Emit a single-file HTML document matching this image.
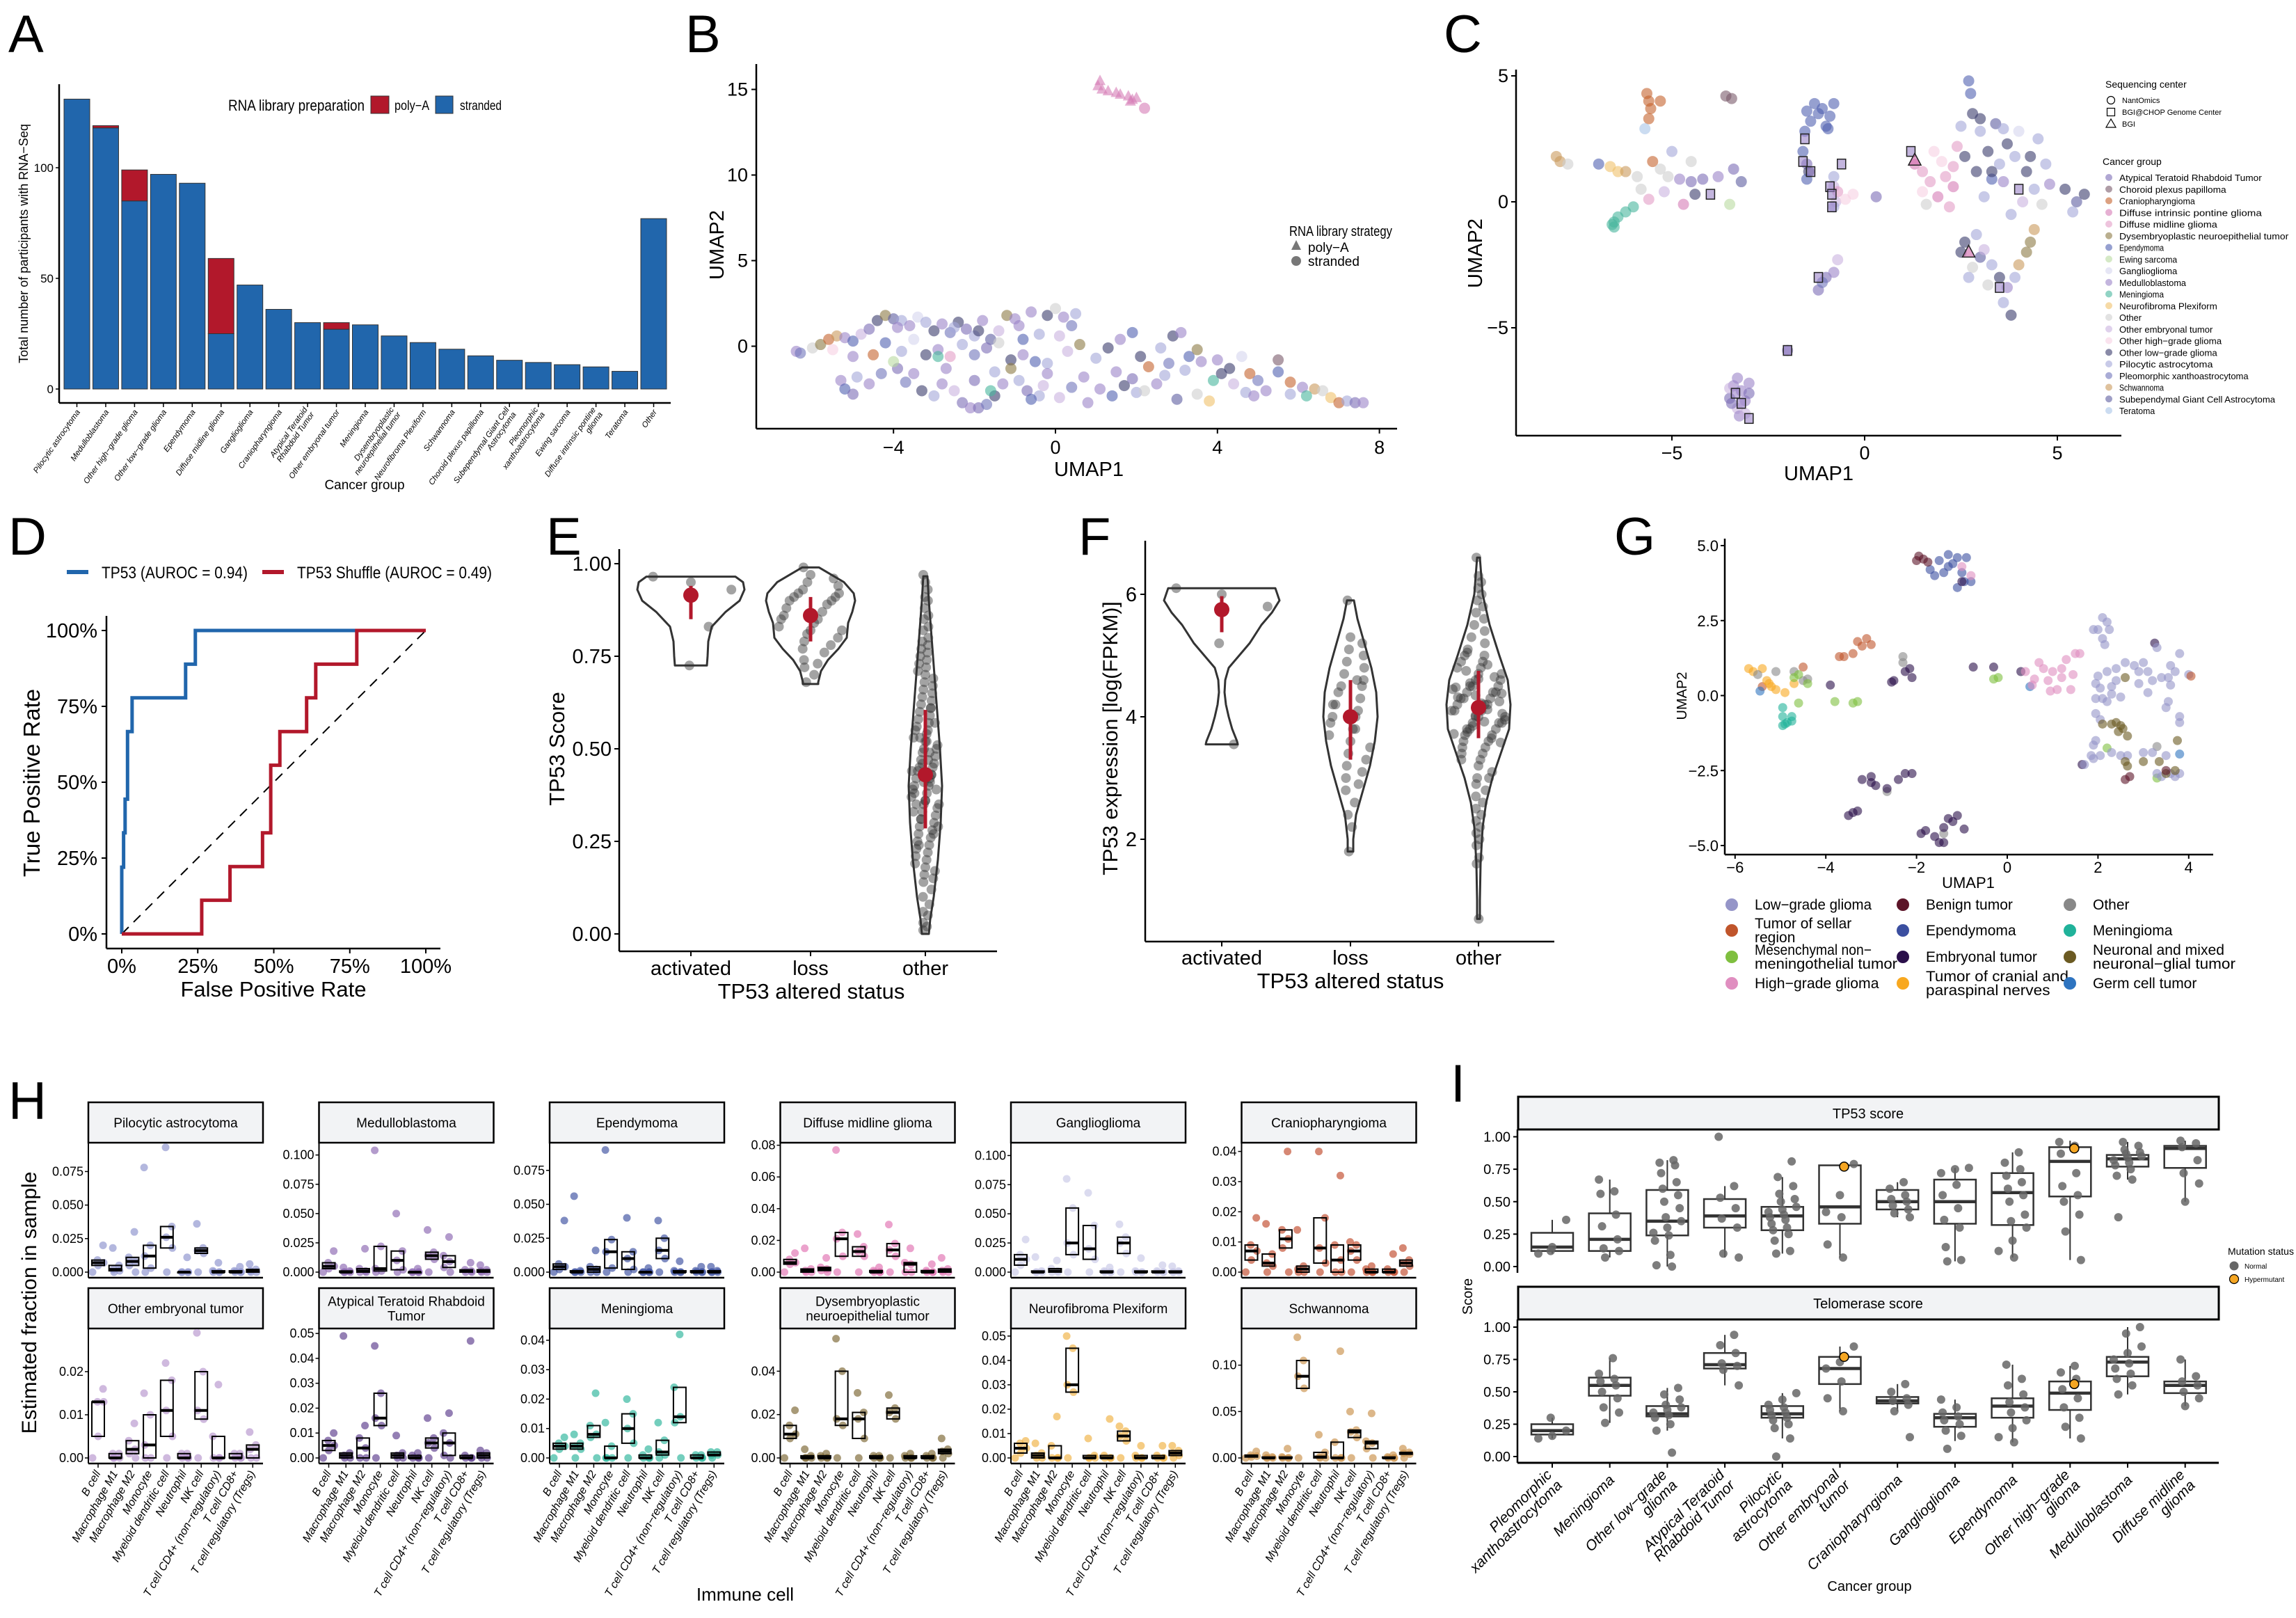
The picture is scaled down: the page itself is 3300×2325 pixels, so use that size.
<!DOCTYPE html>
<html><head><meta charset="utf-8"><title>Pediatric tumor figure</title>
<style>
html,body{margin:0;padding:0;background:#fff;}
svg{display:block;}
text{font-family:"Liberation Sans Narrow","Liberation Sans",sans-serif;fill:#000;}
.wide{font-family:"Liberation Sans",sans-serif;}
</style></head>
<body>
<svg id="fig" xmlns="http://www.w3.org/2000/svg" width="3300" height="2325" viewBox="0 0 3300 2325">
<rect x="0" y="0" width="3300" height="2325" fill="#fff"/>
</svg>
<script>
/* ================= DATA ================= */
// Panel A
const aCats=['Pilocytic astrocytoma','Medulloblastoma','Other high−grade glioma','Other low−grade glioma','Ependymoma','Diffuse midline glioma','Ganglioglioma','Craniopharyngioma','Atypical Teratoid|Rhabdoid Tumor','Other embryonal tumor','Meningioma','Dysembryoplastic|neuroepithelial tumor','Neurofibroma Plexiform','Schwannoma','Choroid plexus papilloma','Subependymal Giant Cell|Astrocytoma','Pleomorphic|xanthoastrocytoma','Ewing sarcoma','Diffuse intrinsic pontine|glioma','Teratoma','Other'];
const aStranded=[131,118,85,97,93,25,47,36,30,27,29,24,21,18,15,13,12,11,10,8,77];
const aPolyA=[0,1,14,0,0,34,0,0,0,3,0,0,0,0,0,0,0,0,0,0,0];
const aTicks=[0,50,100];
// Cancer group palette (panel B/C)
const cgNames=['Atypical Teratoid Rhabdoid Tumor','Choroid plexus papilloma','Craniopharyngioma','Diffuse intrinsic pontine glioma','Diffuse midline glioma','Dysembryoplastic neuroepithelial tumor','Ependymoma','Ewing sarcoma','Ganglioglioma','Medulloblastoma','Meningioma','Neurofibroma Plexiform','Other','Other embryonal tumor','Other high−grade glioma','Other low−grade glioma','Pilocytic astrocytoma','Pleomorphic xanthoastrocytoma','Schwannoma','Subependymal Giant Cell Astrocytoma','Teratoma'];
const cgColors=['#7b6cb5','#7a5a6a','#c4622d','#d67bb5','#e39cc6','#8c7a45','#5060b0','#b9dba0','#d6d6ee','#9b84c8','#47b69c','#f0c26b','#cfcfcf','#c9b3df','#f6d0e2','#3b3c6c','#a3a6d8','#7075bb','#c99a5c','#5d5ea0','#a8c5e8'];
// Panel B points [umap1, umap2, group]
const bTri=[[1.1,15.5],[1.05,15.2],[1.15,15.0],[1.3,14.9],[1.5,14.8],[1.6,14.7],[1.8,14.6],[1.9,14.4],[2.0,14.5],[1.85,14.3]];
const bPts=[[2.2,13.9,3],[-6.4,-0.3,9],[-6.3,-0.4,17],[-6.0,-0.1,12],[-5.8,0.1,5],[-5.6,0.4,2],[-5.4,0.6,18],[-5.2,0.5,9],[-5.0,0.3,6],[-4.8,0.7,13],[-4.6,1.0,0],[-4.4,1.5,15],[-4.2,1.8,5],[-4.0,1.6,19],[-3.8,1.5,16],[-3.6,1.2,9],[-3.4,1.7,8],[-3.2,1.4,16],[-3.0,0.9,15],[-2.8,1.3,9],[-2.6,0.8,17],[-2.4,1.4,15],[-2.2,1.0,0],[-2.0,0.6,16],[-1.8,1.5,9],[-1.6,0.4,19],[-1.4,0.9,13],[-1.2,1.8,5],[-1.0,1.6,9],[-0.8,0.4,6],[-0.6,2.0,9],[-0.4,0.7,16],[-0.2,1.8,15],[0.0,2.2,12],[0.2,1.7,9],[0.4,1.2,17],[0.1,0.6,13],[-5.5,-0.2,14],[-5.0,-0.6,9],[-4.5,-0.5,2],[-4.2,0.2,6],[-3.8,-0.3,16],[-3.5,0.4,8],[-3.2,-0.5,15],[-2.9,-0.2,9],[-2.6,-0.6,4],[-2.3,0.1,16],[-2.0,-0.5,17],[-1.7,-0.1,0],[-1.4,0.2,12],[-1.1,-0.8,15],[-0.8,-0.5,9],[-0.5,-0.9,6],[-0.2,-1.0,16],[0.3,-0.3,13],[0.6,0.1,5],[-5.3,-2.0,9],[-5.2,-2.5,6],[-5.0,-2.8,0],[-4.9,-1.8,16],[-4.6,-2.2,9],[-3.9,-1.3,0],[-3.7,-2.1,17],[-3.5,-1.6,9],[-3.3,-2.6,15],[-3.0,-2.9,16],[-2.8,-2.2,9],[-2.5,-2.6,13],[-2.3,-3.3,0],[-2.1,-3.6,9],[-1.9,-3.6,0],[-1.7,-3.4,17],[-1.5,-2.9,15],[-1.3,-2.2,9],[-1.1,-1.3,5],[-0.9,-2.0,16],[-0.7,-2.6,0],[-0.4,-2.9,16],[-0.2,-1.6,9],[0.1,-3.0,13],[0.4,-2.4,17],[0.7,-1.8,9],[1.0,-0.7,16],[1.3,-0.1,15],[1.6,0.4,9],[1.9,0.8,6],[2.1,-0.6,15],[2.3,-1.2,2],[2.6,-0.1,16],[2.9,0.6,15],[3.1,0.8,9],[3.3,-0.6,6],[3.5,-0.2,5],[3.2,-1.4,16],[2.8,-1.0,17],[2.5,-2.2,9],[2.0,-2.7,16],[1.7,-2.3,15],[1.4,-2.9,6],[1.1,-2.5,9],[3.0,-3.1,19],[3.5,-2.8,12],[3.8,-3.2,11],[4.0,-0.8,9],[4.3,-1.3,15],[4.6,-0.6,8],[4.8,-1.6,2],[5.0,-2.0,17],[5.2,-2.6,9],[4.7,-2.7,16],[4.4,-2.2,13],[5.5,-0.8,1],[5.5,-1.5,6],[5.8,-2.1,2],[6.1,-2.4,9],[6.4,-2.5,18],[6.6,-2.6,12],[6.8,-3.0,11],[7.0,-3.3,2],[7.2,-3.2,16],[7.4,-3.3,0],[7.6,-3.3,9],[6.2,-2.9,10],[5.8,-2.8,16],[3.9,-2.0,10],[0.8,-3.3,9],[-0.6,-3.1,6],[-1.6,-2.6,10],[-2.9,-0.6,10],[-4.0,-0.9,7],[2.2,-2.6,12],[4.1,-1.6,15],[-3.9,1.1,9],[-2.5,1.1,16],[-1.9,0.9,15],[-0.9,1.2,9],[0.5,1.9,16],[-1.5,-1.5,16],[-2.7,-1.3,9],[-4.3,-1.6,17],[1.5,-1.5,9],[2.7,-1.7,16],[3.6,-0.9,9],[4.9,-2.9,9],[-2.0,-2.0,0],[-0.3,-2.3,13],[1.9,-1.9,0]];
const bXTicks=[-4,0,4,8];
const bYTicks=[0,5,10,15];
// Panel C points [umap1, umap2, group]
const cPts=[[-5.65,4.3,2],[-5.6,4.0,2],[-5.55,3.7,2],[-5.6,3.3,2],[-5.3,4.0,2],[-5.7,2.9,20],[-3.6,4.2,1],[-3.45,4.1,1],[-1.5,3.6,6],[-1.3,3.9,6],[-1.1,3.7,6],[-0.9,3.4,6],[-1.4,3.2,6],[-1.0,3.0,6],[-0.8,3.9,6],[-1.2,3.5,6],[-1.55,2.8,6],[-0.95,2.9,6],[-1.6,2.0,6],[-1.5,1.5,0],[-1.45,1.2,15],[-1.5,0.9,6],[-8.0,1.8,18],[-7.9,1.6,18],[-7.7,1.5,12],[-6.9,1.5,6],[-6.6,1.4,11],[-6.4,1.2,11],[-6.2,1.2,18],[-5.9,1.0,12],[-5.5,1.6,2],[-5.3,1.3,12],[-5.1,1.0,12],[-4.8,0.9,9],[-4.5,0.8,0],[-4.2,0.9,0],[-3.8,1.0,9],[-3.4,1.3,0],[-3.2,0.8,19],[-5.8,0.5,12],[-5.6,0.1,4],[-5.2,0.4,13],[-4.7,-0.1,3],[-4.4,0.3,15],[-3.5,-0.1,7],[-5.0,2.0,16],[-4.5,1.6,12],[-6.0,-0.2,10],[-6.2,-0.4,10],[-6.4,-0.6,10],[-6.5,-0.8,10],[-6.55,-0.9,10],[-6.5,-1.0,10],[-0.8,1.0,16],[-0.8,0.6,13],[-0.7,0.4,4],[-0.75,0.0,13],[-0.8,-0.2,16],[-0.5,0.1,14],[-0.3,0.3,14],[0.3,0.2,0],[-1.0,-3.0,0],[-0.8,-2.8,9],[-1.2,-3.5,0],[-1.1,-3.2,17],[-0.7,-2.3,13],[-2.0,-5.9,0],[-3.4,-7.3,9],[-3.2,-7.5,9],[-3.5,-7.8,0],[-3.1,-7.9,9],[-3.3,-8.2,13],[-3.0,-7.2,9],[-3.25,-8.5,9],[-3.45,-8.0,0],[-3.1,-8.4,13],[-3.3,-7.0,9],[-3.0,-7.6,0],[-3.5,-7.4,13],[1.3,1.5,3],[1.5,1.2,4],[1.7,0.8,4],[1.5,0.4,14],[1.9,0.2,3],[2.1,1.0,4],[2.0,1.6,14],[2.3,0.6,3],[1.8,2.0,14],[2.4,2.2,4],[2.2,-0.2,4],[1.6,-0.1,12],[2.5,3.0,16],[2.8,3.5,15],[2.7,4.8,6],[2.75,4.3,6],[3.0,2.8,16],[3.2,2.0,15],[3.4,3.1,19],[3.5,1.5,16],[3.7,2.3,15],[3.9,1.8,16],[4.0,2.8,8],[4.2,1.2,15],[3.6,0.8,9],[3.1,0.2,16],[2.9,1.2,15],[4.4,0.5,16],[4.6,-0.1,12],[4.8,0.7,9],[5.2,0.5,15],[5.5,0.0,19],[5.7,0.3,15],[5.4,-0.4,16],[3.8,-0.5,16],[4.3,1.8,15],[4.5,2.5,16],[2.6,1.8,15],[3.3,0.9,6],[4.1,0.0,13],[4.3,-1.6,5],[4.2,-2.0,5],[4.4,-1.1,18],[2.6,-1.6,15],[2.9,-1.3,16],[2.5,-2.0,15],[3.0,-2.2,19],[3.3,-2.5,16],[3.5,-3.0,15],[3.2,-3.3,12],[3.7,-3.4,9],[3.9,-3.0,16],[3.6,-4.0,16],[3.8,-4.5,15],[2.8,-2.6,12],[4.0,-2.5,18],[2.7,-3.0,16],[3.1,-1.9,13],[3.0,3.3,15],[3.6,2.9,16],[2.3,1.4,4],[3.3,1.2,15],[4.7,1.5,16]];
const cSq=[[-1.55,2.5],[-1.6,1.6],[-1.4,1.2],[-0.9,0.6],[-0.85,0.3],[-0.85,-0.2],[-4.0,0.3],[-1.2,-3.0],[-2.0,-5.9],[-3.35,-7.6],[-3.2,-8.0],[-3.0,-8.6],[4.0,0.5],[3.5,-3.4],[-0.6,1.5],[1.2,2.0]];
const cTri=[[1.3,1.65],[2.7,-2.0]];
const cXTicks=[-5,0,5];
const cYTicks=[-5,0,5];
// Panel D ROC
const dBlueFpr=[0,0,0.006,0.006,0.011,0.011,0.019,0.019,0.034,0.034,0.21,0.21,0.242,0.242,1];
const dBlueTpr=[0,0.22,0.22,0.333,0.333,0.444,0.444,0.667,0.667,0.778,0.778,0.889,0.889,1,1];
const dRedFpr=[0,0.263,0.263,0.356,0.356,0.463,0.463,0.49,0.49,0.52,0.52,0.608,0.608,0.638,0.638,0.773,0.773,1];
const dRedTpr=[0,0,0.111,0.111,0.222,0.222,0.333,0.333,0.556,0.556,0.667,0.667,0.778,0.778,0.889,0.889,1,1];
const dTicks=[0,0.25,0.5,0.75,1];
const dTickLbl=['0%','25%','50%','75%','100%'];
// Panel E
const eCats=['activated','loss','other'];
const eActPts=[0.965,0.95,0.83,0.725,0.93];
const eLossPts=[0.99,0.97,0.96,0.95,0.94,0.93,0.92,0.92,0.91,0.91,0.90,0.90,0.89,0.88,0.87,0.86,0.85,0.85,0.84,0.83,0.82,0.82,0.81,0.80,0.79,0.78,0.77,0.76,0.74,0.73,0.72,0.70,0.68];
const eOthPts=[0.97,0.95,0.93,0.91,0.9,0.88,0.86,0.85,0.83,0.82,0.8,0.79,0.78,0.77,0.76,0.75,0.74,0.73,0.72,0.71,0.7,0.69,0.68,0.67,0.66,0.65,0.64,0.63,0.62,0.61,0.6,0.59,0.58,0.57,0.56,0.55,0.55,0.54,0.53,0.52,0.51,0.5,0.5,0.49,0.48,0.47,0.46,0.45,0.45,0.44,0.43,0.42,0.41,0.4,0.4,0.39,0.38,0.37,0.36,0.35,0.35,0.34,0.33,0.32,0.31,0.3,0.29,0.28,0.27,0.26,0.25,0.24,0.23,0.22,0.21,0.2,0.19,0.18,0.17,0.16,0.15,0.14,0.12,0.1,0.08,0.06,0.05,0.03,0.02,0.01,0.42,0.38,0.47,0.33,0.52,0.44,0.36,0.29,0.41,0.57,0.46,0.39,0.31,0.27,0.53,0.61,0.24,0.43,0.35,0.49];
const eMean=[0.915,0.86,0.43];
const eLo=[0.85,0.79,0.285];
const eHi=[0.94,0.91,0.605];
const eVioAct=[[0.965,64],[0.95,75],[0.93,77],[0.9,70],[0.87,50],[0.83,30],[0.79,25],[0.75,24],[0.725,23]];
const eVioLoss=[[0.99,12],[0.97,30],[0.95,48],[0.92,62],[0.9,64],[0.87,60],[0.84,54],[0.8,52],[0.77,40],[0.74,25],[0.71,15],[0.68,11],[0.675,11]];
const eVioOth=[[0.966,3],[0.9,5],[0.8,9],[0.7,13],[0.6,17],[0.5,21],[0.4,24],[0.3,22],[0.2,18],[0.1,12],[0.04,7],[0.0,5]];
const eTicks=[0,0.25,0.5,0.75,1];
const eTickLbl=['0.00','0.25','0.50','0.75','1.00'];
// Panel F
const fActPts=[6.1,6.0,5.8,5.2,3.55];
const fLossPts=[5.9,5.3,5.2,5.1,5.0,4.9,4.8,4.7,4.6,4.5,4.5,4.4,4.3,4.2,4.1,4.0,4.0,3.9,3.8,3.7,3.6,3.5,3.4,3.3,3.2,3.1,3.0,2.9,2.8,2.6,2.4,2.2,1.8,4.6,4.2,3.8];
const fOthPts=[6.6,6.3,6.2,6.1,6.0,5.9,5.8,5.7,5.6,5.5,5.4,5.3,5.2,5.1,5.0,5.0,4.9,4.9,4.8,4.8,4.7,4.7,4.6,4.6,4.5,4.5,4.5,4.4,4.4,4.4,4.3,4.3,4.3,4.2,4.2,4.2,4.1,4.1,4.1,4.0,4.0,4.0,3.9,3.9,3.9,3.8,3.8,3.8,3.7,3.7,3.6,3.6,3.5,3.5,3.4,3.4,3.3,3.3,3.2,3.1,3.0,3.0,2.9,2.8,2.7,2.6,2.5,2.4,2.3,2.2,2.1,2.0,1.9,1.7,1.6,0.7,4.45,4.15,3.95,4.35,4.05,3.85,4.25,4.55,4.65,3.75,3.65,4.75,4.85,5.05,4.12,4.32,3.92,4.48,4.22,3.72,4.62,3.58,4.02,4.38];
const fMean=[5.75,4.0,4.15];
const fLo=[5.38,3.3,3.65];
const fHi=[5.97,4.6,4.75];
const fVioAct=[[6.1,77],[5.9,83],[5.7,72],[5.5,57],[5.2,40],[5.0,25],[4.8,10],[4.6,5],[4.4,4],[4.2,6],[4.0,10],[3.8,15],[3.6,22],[3.55,23]];
const fVioLoss=[[5.9,5],[5.6,10],[5.2,20],[4.8,30],[4.4,37],[4.0,39],[3.6,35],[3.2,28],[2.8,18],[2.4,8],[2.0,4],[1.8,4]];
const fVioOth=[[6.6,2],[6.0,6],[5.5,16],[5.0,30],[4.6,42],[4.2,46],[3.8,44],[3.4,32],[3.0,20],[2.6,11],[2.2,6],[1.6,3],[1.0,2],[0.7,2]];
const fTicks=[2,4,6];
// Panel G
const gNames=['Low−grade glioma','Tumor of sellar|region','Mesenchymal non−|meningothelial tumor','High−grade glioma','Benign tumor','Ependymoma','Embryonal tumor','Tumor of cranial and|paraspinal nerves','Other','Meningioma','Neuronal and mixed|neuronal−glial tumor','Germ cell tumor'];
const gColors=['#9595c8','#c0552b','#7fbf3f','#e08ec0','#5c1428','#3b4fa0','#2a0f4a','#f8a81f','#888888','#20b29a','#6b5a22','#2e74c0'];
const gPts=[[-1.3,4.7,5],[-1.1,4.6,5],[-1.5,4.5,5],[-1.3,4.3,5],[-1.4,4.1,5],[-1.6,4.0,5],[-1.0,4.1,5],[-0.95,3.8,5],[-1.1,3.6,5],[-0.8,3.8,5],[-1.7,4.2,5],[-1.2,4.4,5],[-0.9,4.6,5],[-1.95,4.65,4],[-2.0,4.5,4],[-1.85,4.55,4],[-1.75,4.45,4],[-1.0,4.3,3],[-0.8,4.0,3],[-1.0,3.8,6],[-3.1,1.9,1],[-3.3,1.8,1],[-3.0,1.7,1],[-3.2,1.65,1],[-3.4,1.4,1],[-3.6,1.3,1],[-3.7,1.3,1],[-4.5,0.95,1],[-5.4,0.3,1],[-5.7,0.9,7],[-5.6,0.8,7],[-5.4,0.9,7],[-5.3,0.5,7],[-5.2,0.3,7],[-5.1,0.2,7],[-4.9,0.1,7],[-4.7,0.4,7],[-5.25,0.4,7],[-5.5,0.7,8],[-5.1,0.8,8],[-4.7,0.8,8],[-4.5,0.5,8],[-4.4,0.55,8],[-2.3,1.1,8],[-2.3,1.3,8],[-2.65,-3.2,8],[3.3,-1.7,8],[-1.4,-4.6,8],[-4.6,0.7,2],[-4.7,0.6,2],[-4.4,0.4,2],[-4.6,-0.25,2],[-3.8,-0.2,2],[-3.4,-0.25,2],[-3.3,-0.2,2],[-0.3,0.55,2],[-0.2,0.6,2],[2.2,-1.75,2],[3.3,-2.75,2],[-4.95,-0.4,9],[-4.95,-0.7,9],[-4.85,-0.9,9],[-4.95,-1.0,9],[-4.75,-0.85,9],[-4.9,-0.95,9],[-4.75,-0.7,9],[-5.45,0.15,11],[0.5,0.3,11],[3.8,-1.95,11],[-3.9,0.35,6],[-2.55,0.45,6],[-2.5,0.5,6],[-2.25,0.8,6],[-2.15,0.9,6],[-2.1,0.6,6],[-0.75,0.95,6],[-0.3,0.95,6],[0.3,0.8,6],[-3.2,-2.8,6],[-3.0,-2.9,6],[-3.0,-2.7,6],[-2.9,-3.0,6],[-2.4,-2.8,6],[-2.25,-2.6,6],[-2.1,-2.6,6],[-2.65,-3.1,6],[-3.5,-4.0,6],[-3.4,-3.9,6],[-3.3,-3.85,6],[-1.9,-4.6,6],[-1.8,-4.5,6],[-1.6,-4.7,6],[-1.4,-4.4,6],[-1.5,-4.9,6],[-1.3,-4.1,6],[-1.2,-4.2,6],[-1.1,-4.0,6],[-0.95,-4.45,6],[-1.4,-4.9,6],[1.65,-2.3,6],[3.25,1.75,6],[0.4,0.8,3],[0.6,0.55,3],[0.7,1.1,3],[0.8,0.9,3],[0.9,0.5,3],[1.0,0.8,3],[1.1,0.2,3],[1.2,0.6,3],[1.3,1.2,3],[1.4,0.2,3],[1.5,1.4,3],[1.6,1.4,3],[1.2,0.9,3],[0.55,0.35,3],[0.95,0.15,3],[1.45,0.7,3],[1.9,2.2,0],[2.0,2.2,0],[2.1,2.6,0],[2.2,2.45,0],[2.25,2.2,0],[2.1,1.9,0],[2.15,1.7,0],[2.6,1.1,0],[2.8,1.0,0],[3.0,1.1,0],[3.3,1.6,0],[3.8,1.4,0],[3.7,0.8,0],[4.0,0.7,0],[3.55,0.6,0],[3.4,0.6,0],[3.1,0.8,0],[2.9,0.8,0],[2.4,0.9,0],[2.2,0.8,0],[2.0,0.65,0],[1.95,0.4,0],[2.05,0.25,0],[2.3,0.05,0],[2.5,-0.05,0],[2.1,-0.1,0],[1.95,-0.1,0],[2.2,-0.2,0],[2.4,0.5,0],[2.9,0.4,0],[3.2,0.5,0],[3.1,0.1,0],[3.6,0.35,0],[3.55,-0.2,0],[3.5,-0.4,0],[3.8,-0.9,0],[3.8,-0.7,0],[1.95,-0.6,0],[2.05,-0.8,0],[1.95,-1.5,0],[1.9,-1.65,0],[1.85,-2.0,0],[2.05,-2.0,0],[2.3,-1.9,0],[2.5,-2.0,0],[2.65,-2.0,0],[3.0,-1.9,0],[3.2,-1.9,0],[3.5,-2.0,0],[3.3,-2.6,0],[3.4,-2.7,0],[3.6,-2.6,0],[3.7,-2.7,0],[3.8,-2.6,0],[1.7,-2.3,0],[1.9,-2.1,0],[3.6,1.0,0],[2.3,0.3,0],[2.1,-0.95,10],[2.3,-0.95,10],[2.4,-0.9,10],[2.5,-1.0,10],[2.55,-1.1,10],[2.45,-1.2,10],[2.65,-1.35,10],[3.75,-1.5,10],[2.6,-2.2,10],[2.65,-2.35,10],[3.0,-2.2,10],[3.35,-2.2,10],[3.7,-2.5,10],[3.5,-2.6,10],[2.6,0.6,10],[2.6,-2.8,4],[2.7,-2.7,4],[3.5,-2.5,4],[4.05,0.65,1]];
const gXTicks=[-6,-4,-2,0,2,4];
const gYTicks=[-5,-2.5,0,2.5,5];
const gYTickLbl=['−5.0','−2.5','0.0','2.5','5.0'];
// Panel H
const hCells=['B cell','Macrophage M1','Macrophage M2','Monocyte','Myeloid dendritic cell','Neutrophil','NK cell','T cell CD4+ (non−regulatory)','T cell CD8+','T cell regulatory (Tregs)'];
const hPanels=['Pilocytic astrocytoma','Medulloblastoma','Ependymoma','Diffuse midline glioma','Ganglioglioma','Craniopharyngioma','Other embryonal tumor','Atypical Teratoid Rhabdoid|Tumor','Meningioma','Dysembryoplastic|neuroepithelial tumor','Neurofibroma Plexiform','Schwannoma'];
const hColors=['#8b90cc','#8b66b0','#3b4fa0','#e070b0','#c7c7e6','#c0482a','#b594cc','#5a3b8c','#2ab49a','#7a6430','#f0b040','#c9904a'];
const hTop=[0.0965,0.1105,0.0954,0.0816,0.111,0.0429,0.030,0.052,0.044,0.0597,0.0531,0.1395];
const hTicks=[[0,0.025,0.05,0.075],[0,0.025,0.05,0.075,0.1],[0,0.025,0.05,0.075],[0,0.02,0.04,0.06,0.08],[0,0.025,0.05,0.075,0.1],[0,0.01,0.02,0.03,0.04],[0,0.01,0.02],[0,0.01,0.02,0.03,0.04,0.05],[0,0.01,0.02,0.03,0.04],[0,0.02,0.04],[0,0.01,0.02,0.03,0.04,0.05],[0,0.05,0.1]];
const hTickLbl=[['0.000','0.025','0.050','0.075'],['0.000','0.025','0.050','0.075','0.100'],['0.000','0.025','0.050','0.075'],['0.00','0.02','0.04','0.06','0.08'],['0.000','0.025','0.050','0.075','0.100'],['0.00','0.01','0.02','0.03','0.04'],['0.00','0.01','0.02'],['0.00','0.01','0.02','0.03','0.04','0.05'],['0.00','0.01','0.02','0.03','0.04'],['0.00','0.02','0.04'],['0.00','0.01','0.02','0.03','0.04','0.05'],['0.00','0.05','0.10']];
const hMed=[[.007,.002,.008,.012,.026,0,.016,0,0,.001],[.005,0,.001,.003,.010,0,.014,.009,.001,.001],[.004,0,.002,.015,.010,0,.016,0,0,0],[.006,.001,.002,.021,.013,0,.014,.005,0,.001],[.011,0,.001,.025,.020,0,.025,0,0,0],[.007,.003,.011,.001,.008,.004,.007,0,0,.003],[.013,0,.002,.003,.011,0,.011,0,0,.002],[.005,.001,.004,.016,.001,0,.006,.006,0,.001],[.004,.004,.008,0,.010,0,.002,.014,0,.001],[.011,0,0,.018,.018,0,.021,0,0,.003],[.004,.001,0,.030,0,0,.009,0,0,.002],[.002,0,0,.088,.001,0,.028,.016,0,.005]];
const hQ1=[[.005,.001,.005,.003,.018,0,.014,0,0,0],[.003,0,0,.001,.002,0,.011,.004,0,0],[.002,0,0,.003,.002,0,.010,0,0,0],[.005,0,.001,.010,.010,0,.010,0,0,0],[.006,0,0,.015,.011,0,.016,0,0,0],[.004,.002,.008,0,.003,0,.004,0,0,.002],[.005,0,.001,0,.005,0,.009,0,0,0],[.003,0,0,.013,0,0,.004,.001,0,0],[.003,.003,.007,0,.005,0,.001,.012,0,.001],[.009,0,0,.015,.009,0,.018,0,0,.002],[.002,0,0,.027,0,0,.007,0,0,.001],[.001,0,0,.075,0,0,.022,.010,0,.004]];
const hQ3=[[.009,.005,.011,.020,.034,0,.018,.001,.001,.002],[.008,.001,.003,.022,.018,0,.017,.014,.002,.002],[.006,.001,.004,.024,.015,0,.025,.001,.001,.001],[.008,.002,.003,.025,.016,.001,.018,.006,.001,.002],[.015,.001,.003,.055,.040,.001,.030,.001,.001,.001],[.009,.006,.014,.002,.018,.009,.009,.001,.001,.004],[.013,.001,.004,.010,.018,.001,.020,.005,.001,.003],[.007,.002,.008,.026,.002,.001,.008,.010,.001,.002],[.005,.005,.011,.004,.015,.001,.006,.024,.001,.002],[.015,.001,.001,.040,.021,.001,.023,.001,.001,.004],[.006,.002,.005,.045,.001,.001,.011,.001,.001,.003],[.003,.001,.001,.105,.006,.017,.030,.018,.001,.006]];
const hMax=[[.020,.018,.030,.078,.093,.011,.036,.007,.004,.006],[.018,.004,.020,.104,.050,.003,.036,.030,.008,.006],[.038,.056,.016,.090,.040,.003,.038,.008,.004,.004],[.012,.015,.009,.077,.024,.003,.030,.015,.005,.009],[.028,.013,.010,.080,.068,.004,.041,.012,.006,.005],[.018,.016,.040,.014,.040,.032,.010,.002,.006,.008],[.016,.001,.008,.015,.022,.001,.029,.017,.001,.006],[.010,.049,.013,.045,.009,.002,.016,.018,.047,.003],[.007,.008,.022,.012,.020,.003,.012,.042,.001,.002],[.022,.004,.002,.055,.030,.001,.029,.002,.002,.009],[.007,.006,.017,.050,.008,.016,.013,.005,.005,.005],[.007,.003,.010,.130,.025,.115,.050,.048,.003,.010]];
// Panel I
const iCats=['Pleomorphic|xanthoastrocytoma','Meningioma','Other low−grade|glioma','Atypical Teratoid|Rhabdoid Tumor','Pilocytic|astrocytoma','Other embryonal|tumor','Craniopharyngioma','Ganglioglioma','Ependymoma','Other high−grade|glioma','Medulloblastoma','Diffuse midline|glioma'];
const iTpQ1=[.12,.12,.24,.30,.28,.33,.44,.33,.32,.54,.77,.76];
const iTpMed=[.15,.21,.35,.39,.39,.46,.50,.50,.57,.81,.83,.91];
const iTpQ3=[.26,.41,.59,.52,.46,.78,.59,.67,.72,.92,.86,.93];
const iTpLo=[.10,.07,0,.07,.10,.07,.38,.04,.07,.05,.67,.50];
const iTpHi=[.36,.67,.82,.62,.69,.78,.65,.76,.88,.97,.96,.97];
const iTpPts=[[.10,.15,.36,.12],[.07,.12,.14,.21,.31,.40,.56,.58,.67],[0,.01,.09,.2,.24,.26,.3,.35,.38,.45,.5,.55,.6,.65,.72,.78,.8,.82],[.07,.1,.3,.37,.45,.53,.62,1.0],[.1,.12,.2,.25,.28,.3,.33,.36,.38,.4,.42,.44,.46,.5,.52,.56,.62,.69,.81],[.07,.17,.38,.42,.55,.79],[.38,.41,.44,.47,.5,.52,.55,.6,.65],[.04,.05,.15,.3,.36,.45,.55,.63,.72,.75,.76],[.07,.12,.2,.3,.35,.4,.5,.55,.6,.65,.7,.75,.8,.88],[.05,.27,.4,.5,.55,.62,.72,.87,.93,.96],[.38,.67,.7,.75,.78,.8,.82,.84,.85,.87,.88,.9,.93,.96],[.5,.64,.72,.82,.92,.95,.97]];
const iTpHyper=[null,null,null,null,null,.77,null,null,null,.91,null,null];
const iTeQ1=[.17,.47,.31,.68,.30,.56,.41,.23,.30,.36,.62,.49];
const iTeMed=[.20,.55,.33,.71,.33,.68,.43,.30,.39,.49,.73,.55];
const iTeQ3=[.25,.61,.39,.80,.39,.77,.46,.33,.45,.58,.77,.58];
const iTeLo=[.14,.26,.20,.55,.14,.35,.35,.12,.11,.14,.48,.39];
const iTeHi=[.30,.76,.53,.94,.49,.85,.56,.44,.71,.70,1.0,.75];
const iTePts=[[.14,.16,.2,.3],[.26,.34,.38,.45,.5,.55,.58,.6,.64,.76],[.03,.2,.25,.3,.32,.34,.36,.38,.4,.44,.48,.53],[.55,.67,.7,.72,.8,.86,.94],[0,.14,.22,.25,.28,.3,.32,.34,.36,.38,.4,.44,.49],[.35,.45,.58,.68,.73,.85],[.15,.35,.4,.43,.45,.5,.56],[.06,.16,.2,.25,.28,.31,.34,.38,.44],[.11,.15,.22,.28,.34,.38,.42,.48,.55,.6,.71],[.14,.23,.3,.38,.45,.52,.6,.65,.7],[.48,.55,.6,.64,.68,.72,.75,.8,.85,.95,1.0],[.39,.45,.5,.55,.58,.62,.75]];
const iTeHyper=[null,null,null,null,null,.77,null,null,null,.56,null,null];
const iTicks=[0,0.25,0.5,0.75,1];
const iTickLbl=['0.00','0.25','0.50','0.75','1.00'];

/* ================= HELPERS ================= */
const NS='http://www.w3.org/2000/svg';
const root=document.getElementById('fig');
function mk(tag,attrs,parent){const e=document.createElementNS(NS,tag);for(const k in attrs)e.setAttribute(k,attrs[k]);(parent||root).appendChild(e);return e;}
function grp(name,parent){const g=mk('g',{},parent);


return g;}
function tx(x,y,s,size,anchor,parent,name,extra){const t=mk('text',Object.assign({x:x,y:y,'font-size':size,'text-anchor':anchor||'start'},extra||{}),parent);t.textContent=s;


return t;}
function ln(x1,y1,x2,y2,w,parent,name,col){const l=mk('line',{x1:x1,y1:y1,x2:x2,y2:y2,stroke:col||'#000','stroke-width':w},parent);


return l;}
function jit(i,m){return (((i*47)%19)-9)/9*m;}
function multi(x,y,s,size,anchor,parent,name,lh,extra){const parts=s.split('|');const t=mk('text',Object.assign({x:x,y:y,'font-size':size,'text-anchor':anchor},extra||{}),parent);


parts.forEach((p,k)=>{const ts=mk('tspan',{x:x,dy:k===0?(-(parts.length-1)*lh/2):lh},t);ts.textContent=p;});return t;}

/* ================= PANEL A ================= */
(function(){
const g=grp('panel-a');
tx(12,75,'A',76,'start',g,'panel-label-a');
const y=v=>559-3.18*v; const bx=i=>92+i*41.45; const bw=37;
aCats.forEach((c,i)=>{
 const r1=mk('rect',{x:bx(i),y:y(aStranded[i]),width:bw,height:y(0)-y(aStranded[i]),fill:'#2166ac',stroke:'#333','stroke-width':1},g);
 
 
 if(aPolyA[i]>0){const r2=mk('rect',{x:bx(i),y:y(aStranded[i]+aPolyA[i]),width:bw,height:y(aStranded[i])-y(aStranded[i]+aPolyA[i]),fill:'#b2182b',stroke:'#333','stroke-width':1},g);
 
 }
 const cx=bx(i)+bw/2;
 ln(cx,579,cx,585,1.5,g,'x-tick-a');
 multi(cx+5,592,c,11.5,'end',g,'x-tick-label-a',12,{transform:`rotate(-55 ${cx+5} 592)`,'font-style':'italic',class:'wide'});
});
ln(85,121,85,579,2.5,g,'y-axis-a');ln(85,579,964,579,2.5,g,'x-axis-a');
aTicks.forEach(v=>{ln(80,y(v),85,y(v),1.5,g,'y-tick-a');tx(77,y(v)+6,String(v),17,'end',g,'y-tick-label-a');});
tx(40,350,'Total number of participants with RNA−Seq',18,'middle',g,'y-axis-title-a',{transform:'rotate(-90 40 350)',class:'wide'});
tx(524,703,'Cancer group',19,'middle',g,'x-axis-title-a');
tx(328,159,'RNA library preparation',22,'start',g,'legend-title-a',{textLength:196,lengthAdjust:'spacingAndGlyphs'});
const l1=mk('rect',{x:533,y:138,width:26,height:25,fill:'#b2182b',stroke:'#333','stroke-width':1},g);


tx(567,158,'poly−A',19,'start',g,'legend-label-poly-a',{textLength:50,lengthAdjust:'spacingAndGlyphs'});
const l2=mk('rect',{x:626,y:138,width:25,height:25,fill:'#2166ac',stroke:'#333','stroke-width':1},g);


tx(661,158,'stranded',19,'start',g,'legend-label-stranded',{textLength:60,lengthAdjust:'spacingAndGlyphs'});
})();

/* ================= PANEL B ================= */
(function(){
const g=grp('panel-b');
tx(985,75,'B',76,'start',g,'panel-label-b');
const xs=v=>1517+58.2*v, ys=v=>497.5-24.6*v;
bPts.forEach(p=>{const c=mk('circle',{cx:xs(p[0]),cy:ys(p[1]),r:8,fill:cgColors[p[2]],'fill-opacity':0.6},g);
 
 });
bTri.forEach(p=>{const X=xs(p[0]),Y=ys(p[1]);const t=mk('polygon',{points:`${X},${Y-9} ${X-8},${Y+6} ${X+8},${Y+6}`,fill:'#d67bb5','fill-opacity':0.6},g);
 
 });
ln(1087,92,1087,616,2.5,g,'y-axis-b');ln(1087,616,2008,616,2.5,g,'x-axis-b');
bXTicks.forEach(v=>{ln(xs(v),616,xs(v),623,2,g,'x-tick-b');tx(xs(v),652,v<0?'−'+(-v):String(v),27,'middle',g,'x-tick-label-b');});
bYTicks.forEach(v=>{ln(1080,ys(v),1087,ys(v),2,g,'y-tick-b');tx(1075,ys(v)+9,String(v),27,'end',g,'y-tick-label-b');});
tx(1565,684,'UMAP1',29,'middle',g,'x-axis-title-b',{class:'wide'});
tx(1040,352,'UMAP2',29,'middle',g,'y-axis-title-b',{transform:'rotate(-90 1040 352)',class:'wide'});
tx(1853,339,'RNA library strategy',20,'start',g,'legend-title-b',{textLength:148,lengthAdjust:'spacingAndGlyphs'});
const t=mk('polygon',{points:'1863,345 1856,359 1870,359',fill:'#777'},g);


tx(1880,362,'poly−A',19,'start',g,'legend-label-poly-a');
const c=mk('circle',{cx:1863,cy:375,r:7,fill:'#777'},g);


tx(1880,382,'stranded',19,'start',g,'legend-label-stranded');
})();

/* ================= PANEL C ================= */
(function(){
const g=grp('panel-c');
tx(2075,75,'C',76,'start',g,'panel-label-c');
const xs=v=>2680+55.4*v, ys=v=>290-36.2*v;
cPts.forEach(p=>{const c=mk('circle',{cx:xs(p[0]),cy:ys(p[1]),r:8,fill:cgColors[p[2]],'fill-opacity':0.6},g);
 
 });
cSq.forEach(p=>{const r=mk('rect',{x:xs(p[0])-6,y:ys(p[1])-7,width:12,height:14,fill:'#9b84c8','fill-opacity':0.6,stroke:'#222','stroke-width':1.5},g);
 
 });
cTri.forEach(p=>{const X=xs(p[0]),Y=ys(p[1]);const t=mk('polygon',{points:`${X},${Y-10} ${X-9},${Y+7} ${X+9},${Y+7}`,fill:'#d67bb5','fill-opacity':0.7,stroke:'#222','stroke-width':1.5},g);
 
 });
ln(2179,100,2179,626,2.5,g,'y-axis-c');ln(2179,626,3049,626,2.5,g,'x-axis-c');
cXTicks.forEach(v=>{ln(xs(v),626,xs(v),633,2,g,'x-tick-c');tx(xs(v),660,v<0?'−'+(-v):String(v),27,'middle',g,'x-tick-label-c');});
cYTicks.forEach(v=>{ln(2172,ys(v),2179,ys(v),2,g,'y-tick-c');tx(2168,ys(v)+9,v<0?'−'+(-v):String(v),27,'end',g,'y-tick-label-c');});
tx(2614,690,'UMAP1',29,'middle',g,'x-axis-title-c',{class:'wide'});
tx(2130,364,'UMAP2',29,'middle',g,'y-axis-title-c',{transform:'rotate(-90 2130 364)',class:'wide'});
tx(3026,126,'Sequencing center',14,'start',g,'legend-title-sequencing',{class:'wide'});
const s1=mk('circle',{cx:3034,cy:144,r:5.5,fill:'none',stroke:'#000','stroke-width':1.2},g);


tx(3050,148,'NantOmics',11,'start',g,'legend-label-nantomics',{class:'wide'});
const s2=mk('rect',{x:3028.5,y:155.5,width:11,height:11,fill:'none',stroke:'#000','stroke-width':1.2},g);


tx(3050,165,'BGI@CHOP Genome Center',11,'start',g,'legend-label-bgi-chop',{class:'wide'});
const s3=mk('polygon',{points:'3034,171 3027,183 3041,183',fill:'none',stroke:'#000','stroke-width':1.2},g);


tx(3050,182,'BGI',11,'start',g,'legend-label-bgi',{class:'wide'});
tx(3022,237,'Cancer group',14,'start',g,'legend-title-cancer-group',{class:'wide'});
cgNames.forEach((n,i)=>{const yy=255+i*16.75;
 const c=mk('circle',{cx:3031,cy:yy,r:5,fill:cgColors[i],'fill-opacity':0.6},g);
 
 
 tx(3046,yy+5,n,13,'start',g,'legend-label-cancer-group',{class:'wide',textLength:n.length*6.4,lengthAdjust:'spacingAndGlyphs'});});
})();

/* ================= PANEL D ================= */
(function(){
const g=grp('panel-d');
tx(12,797,'D',76,'start',g,'panel-label-d');
const xs=v=>175+437*v, ys=v=>1342-436*v;
ln(xs(0),ys(0),xs(1),ys(1),2,g,'diagonal-reference').setAttribute('stroke-dasharray','14 10');
const pb=mk('polyline',{points:dBlueFpr.map((f,i)=>xs(f)+','+ys(dBlueTpr[i])).join(' '),fill:'none',stroke:'#2166ac','stroke-width':5},g);


const pr=mk('polyline',{points:dRedFpr.map((f,i)=>xs(f)+','+ys(dRedTpr[i])).join(' '),fill:'none',stroke:'#b2182b','stroke-width':5},g);


ln(153,885,153,1363,2.5,g,'y-axis-d');ln(153,1363,633,1363,2.5,g,'x-axis-d');
dTicks.forEach((v,i)=>{ln(146,ys(v),153,ys(v),2,g,'y-tick-d');tx(140,ys(v)+10,dTickLbl[i],29,'end',g,'y-tick-label-d');
 ln(xs(v),1363,xs(v),1370,2,g,'x-tick-d');tx(xs(v),1398,dTickLbl[i],29,'middle',g,'x-tick-label-d');});
tx(393,1432,'False Positive Rate',31,'middle',g,'x-axis-title-d');
tx(57,1125,'True Positive Rate',33,'middle',g,'y-axis-title-d',{transform:'rotate(-90 57 1125)',class:'wide'});
ln(96,822,127,822,6,g,'legend-key-tp53','#2166ac');
tx(146,831,'TP53 (AUROC = 0.94)',24,'start',g,'legend-label-tp53',{textLength:210,lengthAdjust:'spacingAndGlyphs'});
ln(377,822,408,822,6,g,'legend-key-shuffle','#b2182b');
tx(427,831,'TP53 Shuffle (AUROC = 0.49)',24,'start',g,'legend-label-shuffle',{textLength:280,lengthAdjust:'spacingAndGlyphs'});
})();

/* ================= VIOLIN HELPER ================= */
function violin(g,cx,prof,ys,name){
 let d='M'+(cx)+','+ys(prof[0][0]);
 prof.forEach(p=>{d+=' L'+(cx+p[1])+','+ys(p[0]);});
 for(let k=prof.length-1;k>=0;k--){d+=' L'+(cx-prof[k][1])+','+ys(prof[k][0]);}
 d+=' Z';
 const p=mk('path',{d:d,fill:'none',stroke:'#333','stroke-width':3,'stroke-linejoin':'round'},g);
 
 
}
function widthAt(prof,v){for(let k=0;k<prof.length-1;k++){const a=prof[k],b=prof[k+1];if(v<=a[0]&&v>=b[0]){const t=(a[0]-v)/((a[0]-b[0])||1);return a[1]+(b[1]-a[1])*t;}}return 3;}
function jitterPts(g,cx,pts,prof,ys,name){pts.forEach((v,i)=>{const w=Math.max(3,widthAt(prof,v)*0.85);
 const c=mk('circle',{cx:cx+jit(i,w),cy:ys(v),r:7,fill:'#333','fill-opacity':0.45},g);
 
 });}
function meanBar(g,cx,m,lo,hi,ys){ln(cx,ys(lo),cx,ys(hi),5,g,'mean-range-bar','#b2182b');
 const c=mk('circle',{cx:cx,cy:ys(m),r:11,fill:'#b2182b'},g);
 
 }

/* ================= PANEL E ================= */
(function(){
const g=grp('panel-e');
tx(785,797,'E',76,'start',g,'panel-label-e');
const ys=v=>1342-532*v; const cxs=[993,1165,1330];
const profs=[eVioAct,eVioLoss,eVioOth], pts=[eActPts,eLossPts,eOthPts];
profs.forEach((p,i)=>{violin(g,cxs[i],p,ys,'violin-'+eCats[i]);jitterPts(g,cxs[i],pts[i],p,ys,'sample-point');meanBar(g,cxs[i],eMean[i],eLo[i],eHi[i],ys);});
ln(890,789,890,1367,2.5,g,'y-axis-e');ln(890,1367,1433,1367,2.5,g,'x-axis-e');
eTicks.forEach((v,i)=>{ln(883,ys(v),890,ys(v),2,g,'y-tick-e');tx(879,ys(v)+10,eTickLbl[i],29,'end',g,'y-tick-label-e');});
eCats.forEach((c,i)=>{ln(cxs[i],1367,cxs[i],1374,2,g,'x-tick-e');tx(cxs[i],1401,c,29,'middle',g,'x-tick-label-e');});
tx(1166,1435,'TP53 altered status',31,'middle',g,'x-axis-title-e');
tx(811,1076,'TP53 Score',31,'middle',g,'y-axis-title-e',{transform:'rotate(-90 811 1076)',class:'wide'});
})();

/* ================= PANEL F ================= */
(function(){
const g=grp('panel-f');
tx(1550,797,'F',76,'start',g,'panel-label-f');
const ys=v=>1382-88*v; const cxs=[1756,1941,2125];
const profs=[fVioAct,fVioLoss,fVioOth], pts=[fActPts,fLossPts,fOthPts];
profs.forEach((p,i)=>{violin(g,cxs[i],p,ys,'violin-'+eCats[i]);jitterPts(g,cxs[i],pts[i],p,ys,'sample-point');meanBar(g,cxs[i],fMean[i],fLo[i],fHi[i],ys);});
ln(1646,777,1646,1353,2.5,g,'y-axis-f');ln(1646,1353,2234,1353,2.5,g,'x-axis-f');
fTicks.forEach(v=>{ln(1639,ys(v),1646,ys(v),2,g,'y-tick-f');tx(1634,ys(v)+10,String(v),29,'end',g,'y-tick-label-f');});
eCats.forEach((c,i)=>{ln(cxs[i],1353,cxs[i],1360,2,g,'x-tick-f');tx(cxs[i],1386,c,29,'middle',g,'x-tick-label-f');});
tx(1941,1420,'TP53 altered status',31,'middle',g,'x-axis-title-f');
tx(1606,1061,'TP53 expression [log(FPKM)]',30,'middle',g,'y-axis-title-f',{transform:'rotate(-90 1606 1061)',class:'wide'});
})();

/* ================= PANEL G ================= */
(function(){
const g=grp('panel-g');
tx(2320,797,'G',76,'start',g,'panel-label-g');
const xs=v=>2885+65.2*v, ys=v=>999.5-43.1*v;
gPts.forEach(p=>{const c=mk('circle',{cx:xs(p[0]),cy:ys(p[1]),r:6.5,fill:gColors[p[2]],'fill-opacity':0.6},g);
 
 });
ln(2479,774,2479,1228,2.5,g,'y-axis-g');ln(2479,1228,3181,1228,2.5,g,'x-axis-g');
gXTicks.forEach(v=>{ln(xs(v),1228,xs(v),1234,2,g,'x-tick-g');tx(xs(v),1254,v<0?'−'+(-v):String(v),22,'middle',g,'x-tick-label-g');});
gYTicks.forEach((v,i)=>{ln(2473,ys(v),2479,ys(v),2,g,'y-tick-g');tx(2470,ys(v)+8,gYTickLbl[i],22,'end',g,'y-tick-label-g');});
tx(2829,1276,'UMAP1',22,'middle',g,'x-axis-title-g');
tx(2424,1000,'UMAP2',20,'middle',g,'y-axis-title-g',{transform:'rotate(-90 2424 1000)',class:'wide'});
const colX=[2489,2735,2975], rowY=[1300,1337,1375,1413];
gNames.forEach((n,i)=>{const col=Math.floor(i/4), row=i%4;const cx=colX[col], cy=rowY[row];
 const c=mk('circle',{cx:cx,cy:cy,r:9,fill:gColors[i]},g);
 
 
 const parts=n.split('|');
 const t=mk('text',{x:cx+33,y:cy+7,'font-size':21,'text-anchor':'start'},g);
 
 
 parts.forEach((p,k)=>{const ts=mk('tspan',{x:cx+33,dy:k===0?(-(parts.length-1)*10):20},t);ts.textContent=p;
  if(p.length>15){ts.setAttribute('textLength',Math.min(p.length*10.5,205));ts.setAttribute('lengthAdjust','spacingAndGlyphs');}});});
})();

/* ================= PANEL H ================= */
(function(){
const g=grp('panel-h');
tx(12,1608,'H',76,'start',g,'panel-label-h');
hPanels.forEach((name,k)=>{
 const col=k%6,row=Math.floor(k/6);
 const left=127+col*331.5, w=251;
 const top=row===0?1642:1909, zero=row===0?1828:2095, bot=zero+8;
 const stripTop=row===0?1584:1851;
 const pg=grp('facet-'+k,g);
 const sr=mk('rect',{x:left,y:stripTop,width:w,height:top-stripTop,fill:'#f2f3f5',stroke:'#000','stroke-width':2.5},pg);
 
 
 multi(left+w/2,(stripTop+top)/2+7,name,19,'middle',pg,'facet-strip-label',21);
 const ys=v=>zero-(zero-top)*v/hTop[k];
 const xc=i=>left+14+i*24.7;
 hCells.forEach((c,i)=>{
  const vals=[0,hQ1[k][i],hMed[k][i],hQ3[k][i],hMax[k][i]];
  vals.forEach((v,j)=>{const p=mk('circle',{cx:xc(i)+jit(i*5+j,8),cy:ys(v),r:5.5,fill:hColors[k],'fill-opacity':0.65},pg);
   
   });
  const b=mk('rect',{x:xc(i)-9,y:ys(hQ3[k][i]),width:18,height:Math.max(1,ys(hQ1[k][i])-ys(hQ3[k][i])),fill:'none',stroke:'#000','stroke-width':2},pg);
  
  
  ln(xc(i)-9,ys(hMed[k][i]),xc(i)+9,ys(hMed[k][i]),4,pg,'median-line');
  if(row===1){ln(xc(i),bot,xc(i),bot+6,1.5,pg,'x-tick-h');
   tx(xc(i)+4,bot+14,c,16,'end',pg,'x-tick-label-h',{transform:`rotate(-60 ${xc(i)+4} ${bot+14})`,'font-style':'italic'});}
 });
 ln(left,top,left,bot,2,pg,'y-axis-h');ln(left,bot,left+w,bot,2.5,pg,'x-axis-h');
 hTicks[k].forEach((v,i)=>{ln(left-5,ys(v),left,ys(v),1.5,pg,'y-tick-h');tx(left-7,ys(v)+6,hTickLbl[k][i],18,'end',pg,'y-tick-label-h');});
});
tx(1071,2300,'Immune cell',26,'middle',g,'x-axis-title-h');
tx(52,1872,'Estimated fraction in sample',30,'middle',g,'y-axis-title-h',{transform:'rotate(-90 52 1872)',class:'wide'});
})();

/* ================= PANEL I ================= */
(function(){
const g=grp('panel-i');
tx(2085,1583,'I',76,'start',g,'panel-label-i');
const xc=i=>2231+i*82.7;
const facets=[{name:'TP53 score',strip:1576,top:1623,zero:1820,one:1633.5,bot:1829,q1:iTpQ1,med:iTpMed,q3:iTpQ3,lo:iTpLo,hi:iTpHi,pts:iTpPts,hy:iTpHyper},
 {name:'Telomerase score',strip:1849,top:1896,zero:2093,one:1907,bot:2102,q1:iTeQ1,med:iTeMed,q3:iTeQ3,lo:iTeLo,hi:iTeHi,pts:iTePts,hy:iTeHyper}];
facets.forEach((f,fi)=>{
 const pg=grp('facet-i-'+fi,g);
 const ys=v=>f.zero-(f.zero-f.one)*v;
 const sr=mk('rect',{x:2182,y:f.strip,width:1007,height:f.top-f.strip,fill:'#f2f3f5',stroke:'#000','stroke-width':3},pg);
 
 
 tx(2685,f.strip+31,f.name,20,'middle',pg,'facet-strip-label');
 iCats.forEach((c,i)=>{
  const x=xc(i);
  ln(x,ys(f.lo[i]),x,ys(f.q3[i]),2,pg,'whisker','#333');
  ln(x,ys(f.q1[i]),x,ys(f.hi[i]),2,pg,'whisker','#333');
  const b=mk('rect',{x:x-30,y:ys(f.q3[i]),width:60,height:ys(f.q1[i])-ys(f.q3[i]),fill:'#fff',stroke:'#333','stroke-width':2.5},pg);
  
  
  ln(x-30,ys(f.med[i]),x+30,ys(f.med[i]),4.5,pg,'median-line','#333');
  f.pts[i].forEach((v,j)=>{const p=mk('circle',{cx:x+jit(i*7+j,20),cy:ys(v),r:6,fill:'#666','fill-opacity':0.85},pg);
   
   });
  if(f.hy[i]!==null){const h=mk('circle',{cx:x+6,cy:ys(f.hy[i]),r:6.5,fill:'#f5a623',stroke:'#000','stroke-width':1.5},pg);
   
   }
 });
 ln(2181,f.top,2181,f.bot,2.5,pg,'y-axis-i');
 iTicks.forEach((v,i)=>{ln(2175,ys(v),2181,ys(v),2,pg,'y-tick-i');tx(2171,ys(v)+7,iTickLbl[i],20,'end',pg,'y-tick-label-i');});
});
ln(2181,2102,3189,2102,3,g,'x-axis-i');
iCats.forEach((c,i)=>{const x=xc(i);ln(x,2102,x,2109,2,g,'x-tick-i');
 multi(x+8,2128,c,21,'end',g,'x-tick-label-i',21,{transform:`rotate(-45 ${x+8} 2128)`,'font-style':'italic',class:'wide'});});
tx(2687,2286,'Cancer group',20,'middle',g,'x-axis-title-i');
tx(2116,1863,'Score',20,'middle',g,'y-axis-title-i',{transform:'rotate(-90 2116 1863)',class:'wide'});
tx(3202,1803,'Mutation status',14,'start',g,'legend-title-mutation');
const n1=mk('circle',{cx:3211,cy:1819,r:6.5,fill:'#666'},g);


tx(3226,1823,'Normal',10,'start',g,'legend-label-normal');
const n2=mk('circle',{cx:3211,cy:1838,r:6.5,fill:'#f5a623',stroke:'#000','stroke-width':1.2},g);


tx(3226,1842,'Hypermutant',10,'start',g,'legend-label-hypermutant');
})();
</script>
</body></html>
